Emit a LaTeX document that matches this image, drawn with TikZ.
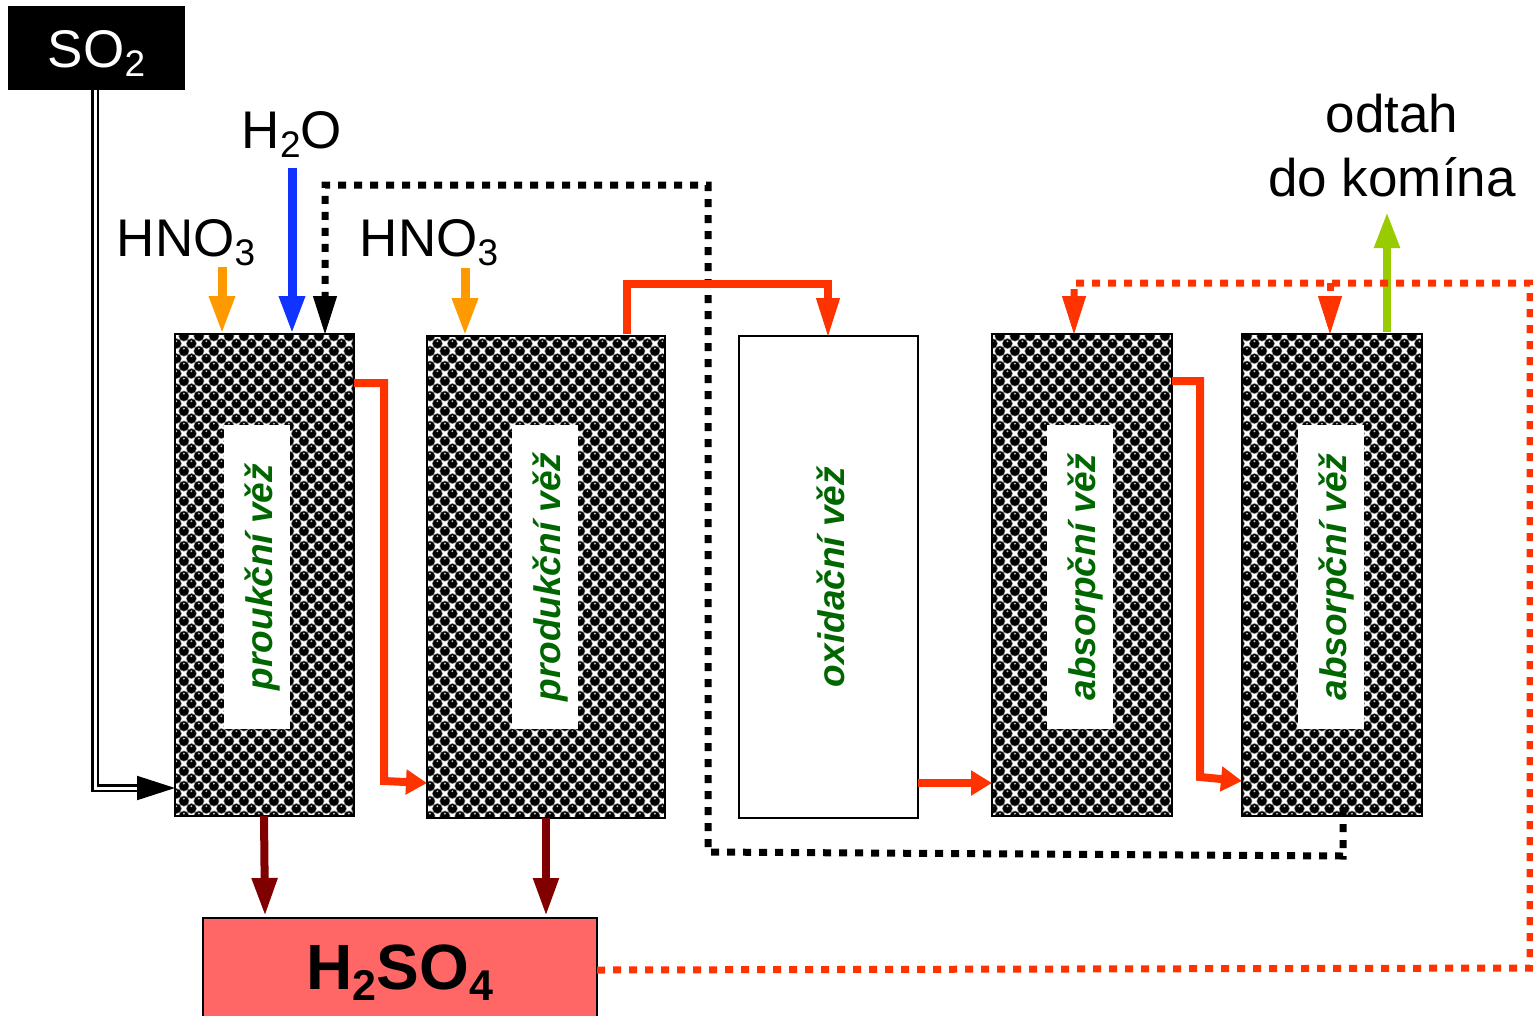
\documentclass[tikz,border=0pt]{standalone}
\usepackage{fontspec}
\setmainfont{Liberation Sans}
\usetikzlibrary{arrows.meta,patterns,calc}
\definecolor{redor}{HTML}{FF3300}
\definecolor{darkred}{HTML}{800000}
\definecolor{leaf}{HTML}{99CC00}
\definecolor{amber}{HTML}{FF9900}
\definecolor{royal}{HTML}{1133FF}
\definecolor{pinkbox}{HTML}{FF6666}
\definecolor{labelgreen}{HTML}{006600}
\newcommand{\ballat}[2]{%
  \pgfsetfillcolor{gray}\pgfpathcircle{\pgfpoint{#1pt}{#2pt}}{5.6pt}\pgfusepath{fill}%
  \pgfsetfillcolor{black}\pgfpathcircle{\pgfpoint{#1pt}{#2pt}}{4.8pt}\pgfusepath{fill}%
  \pgfsetfillcolor{lightgray}\pgfpathcircle{\pgfpoint{#1pt}{#2pt+2.4pt}}{1.1pt}\pgfusepath{fill}}
\pgfdeclarepatterninherentlycolored{balls}{\pgfqpoint{0pt}{0pt}}{\pgfqpoint{15.4pt}{15.4pt}}{\pgfqpoint{15.4pt}{15.4pt}}{%
  \pgfsetfillcolor{white}\pgfpathrectangle{\pgfqpoint{0pt}{0pt}}{\pgfqpoint{15.4pt}{15.4pt}}\pgfusepath{fill}%
  \ballat{0}{0}\ballat{15.4}{0}\ballat{0}{15.4}\ballat{15.4}{15.4}\ballat{7.7}{7.7}%
}
\newcommand{\subs}[1]{\raisebox{-9pt}{\fontsize{37}{37}\selectfont #1}}
\newcommand{\subsb}[1]{\raisebox{-11pt}{\fontsize{43}{43}\selectfont\bfseries #1}}
\newcommand{\lbl}[1]{\raisebox{-15.5pt}[0pt][0pt]{#1}}
\tikzset{
  x=1pt,y=-1pt,
  every node/.style={inner sep=0pt,outer sep=0pt},
  tower/.style={draw=black,line width=1.6pt,pattern=balls,anchor=north west},
  plainbox/.style={draw=black,line width=1.6pt,fill=white,anchor=north west},
  towerlabel/.style={fill=white,rotate=90,minimum width=304pt,minimum height=66pt,text=labelgreen,font=\fontsize{37}{37}\selectfont\bfseries\itshape},
  big/.style={font=\fontsize{53}{53}\selectfont,align=center},
  flow/.style={draw=redor,line width=8pt,-{Triangle[length=21pt,width=24pt]}},
  flowplain/.style={draw=redor,line width=8pt},
  smalldot/.style={draw=redor,line width=7pt,dash pattern=on 8pt off 8pt},
  blackdot/.style={draw=black,line width=7pt,dash pattern=on 8pt off 8pt},
  bighead/.style={-{Triangle[length=38pt,width=24pt]}},
}
\begin{document}
\begin{tikzpicture}
\useasboundingbox (0,0) rectangle (1533,1015);
% boxes
\node[anchor=north west,fill=black,text=white,minimum width=177pt,minimum height=84pt,font=\fontsize{53}{53}\selectfont] (so2) at (8,6) {\raisebox{-19pt}[0pt][0pt]{SO\subs{2}}};
\node[tower,minimum width=179pt,minimum height=482pt] (t1) at (175,334) {};
\node[tower,minimum width=238pt,minimum height=482pt] (t2) at (427,336) {};
\node[plainbox,minimum width=179pt,minimum height=482pt] (t3) at (739,336) {};
\node[tower,minimum width=180pt,minimum height=482pt] (t4) at (992,334) {};
\node[tower,minimum width=180pt,minimum height=482pt] (t5) at (1242,334) {};
\node[towerlabel] (l1) at (257,577) {\lbl{proukční věž}};
\node[towerlabel] (l2) at (544.5,577) {\lbl{produkční věž}};
\node[towerlabel] (l3) at (829,577) {\lbl{oxidační věž}};
\node[towerlabel] (l4) at (1080,577) {\lbl{absorpční věž}};
\node[towerlabel] (l5) at (1331,577) {\lbl{absorpční věž}};
\begin{scope}
\clip (0,0) rectangle (1533,1015);
\node[anchor=north west,draw=black,line width=1.6pt,fill=pinkbox,minimum width=394pt,minimum height=130pt] (acid) at (203,918) {};
\end{scope}
\node[font=\fontsize{64}{64}\selectfont\bfseries] (acidt) at (400,973) {H\subsb{2}SO\subsb{4}};
% texts
\node[big] (h2o) at (292,134) {H\subs{2}O};
\node[big] (hno1) at (186,243) {HNO\subs{3}};
\node[big] (hno2) at (429,243) {HNO\subs{3}};
\node[big] (odtah) at (1392,114) {odtah};
\node[big] (komin) at (1392,177) {do komína};
% SO2 feed
\coordinate (feedturn) at (95.2,788);
\coordinate (feedend) at (140,788);
\draw[line width=2.6pt,double=white,double distance=3pt,line join=miter] (so2.south -| feedturn) -- (feedturn) -- (feedend);
\draw[line width=2pt,-{Triangle[length=38pt,width=24pt]}] (feedend) -- (t1.west |- feedend);
% top feeds
\coordinate (a1) at (222,267);
\coordinate (a2) at (465,268);
\coordinate (a3) at (292,168);
\draw[amber,line width=9pt,bighead] (a1) -- (a1 |- t1.north);
\draw[amber,line width=9pt,bighead] (a2) -- (a2 |- t2.north);
\draw[royal,line width=9pt,bighead] (a3) -- (a3 |- t1.north);
% black dotted recycle
\coordinate (k1) at (1343,808);
\coordinate (k2) at (1343,856);
\coordinate (k3) at (708,852);
\coordinate (k4) at (708,185);
\coordinate (k5) at (325,185);
\coordinate (k6) at (325,296);
\draw[blackdot] (k1) -- (k2) -- (k3) -- (k4) -- (k5) -- (k6);
\draw[line width=1pt,bighead] (k6) -- (k6 |- t1.north);
% red-orange flows
\coordinate (r1) at (354,383); \coordinate (r2) at (384,383); \coordinate (r3) at (384,781);
\draw[flow,line join=miter] (r1) -- (r2) -- (r3) -- (t2.west |- 0,783);
\coordinate (s1) at (627,334); \coordinate (s2) at (627,284); \coordinate (s3) at (828,284);
\draw[flowplain] (s1) -- (s2) -- (s3) -- (828,300);
\draw[redor,line width=1pt,bighead] (828,298) -- (828,336);
\draw[flow] (t3.east |- 0,783) -- (t4.west |- 0,783);
\coordinate (u1) at (1172,381); \coordinate (u2) at (1200,381); \coordinate (u3) at (1200,777);
\draw[flow,line join=miter] (u1) -- (u2) -- (u3) -- (t5.west |- 0,781);
% product
\draw[darkred,line width=8pt,bighead] (264,816) -- (265,916);
\draw[darkred,line width=8pt,bighead] (546,818) -- (546,916);
% stack
\draw[leaf,line width=8pt,-{Triangle[length=36pt,width=24pt]}] (1387,332) -- (1387,212);
% red dotted
\coordinate (d1) at (1530,968); \coordinate (d2) at (1530,283); \coordinate (d3) at (1074,283); \coordinate (d4) at (1330,283);
\draw[smalldot] (acid.east |- 0,970) -- (d1) -- (d2) -- (d3) -- (1074,296);
\draw[smalldot] (d4) -- (1330,292);
\draw[redor,line width=1pt,bighead] (1074,296) -- (1074,334);
\draw[redor,line width=1pt,bighead] (1330,296) -- (1330,334);
\end{tikzpicture}
\end{document}
